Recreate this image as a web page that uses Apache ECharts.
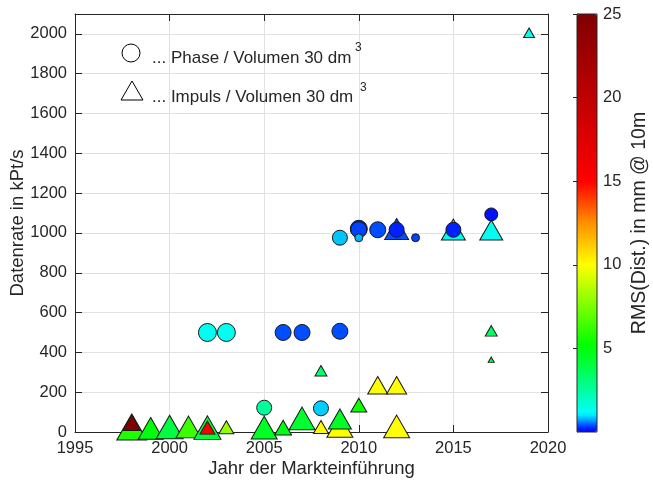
<!DOCTYPE html>
<html><head><meta charset="utf-8">
<script src="https://cdn.jsdelivr.net/npm/echarts@6/dist/echarts.min.js"></script>
<style>html,body{margin:0;padding:0;background:#fff}#c{width:653px;height:482px}</style>
</head><body><div id="c"></div>
<script>
// ---- Data ----
// Phase / Volumen 30 dm^3 (circles)
const phaseYear = [2002, 2003, 2006, 2007, 2009, 2009, 2010, 2010, 2010, 2011, 2012, 2013, 2015, 2017, 2005, 2008];
const phaseRate = [500, 500, 500, 500, 506, 976, 1021, 1016, 976, 1016, 1016, 976, 1016, 1093, 122, 119];
const phaseRms  = [1.3, 1.3, 0.4, 0.4, 0.4, 0.85, 0.2, 0.35, 0.8, 0.4, 0.2, 0.35, 0.2, 0.1, 2.6, 0.9];
const phaseSize = [18, 18, 16, 16, 16, 15, 17, 16, 8, 16, 15, 8, 15, 13, 15, 15];

// Impuls / Volumen 30 dm^3 (triangles)
const impYear = [1998, 1998, 1999, 2000, 2001, 2002, 2002, 2003, 2005, 2006, 2007, 2009, 2009, 2008, 2008, 2010, 2011, 2012, 2012, 2012, 2015, 2017, 2017, 2017, 2019];
const impRate = [25, 47, 18, 25, 25, 22, 22, 24, 22, 22, 68, 30, 65, 25, 308, 135, 235, 235, 28, 1020, 1017, 1015, 508, 363, 2006];
const impRms  = [5.8, 25, 5, 4, 6.3, 4, 15.5, 8, 4.5, 4.8, 4.3, 10, 4.5, 10, 3.2, 5.5, 10, 10, 10, 0.4, 1.4, 1.3, 3.5, 4.5, 1.3];
const impSize = [30, 18, 25, 27, 25, 27, 15, 15, 26, 17, 26, 26, 23, 15, 12, 16, 20, 20, 26, 24, 24, 23, 12, 6, 11];

// Axis ticks
const xTicks = [1995, 2000, 2005, 2010, 2015, 2020];
const yTicks = [0, 200, 400, 600, 800, 1000, 1200, 1400, 1600, 1800, 2000];
const cTicks = [5, 10, 15, 20, 25];

// ---- Colormap (style) ----
const anchors = [[0,'#0000ff'],[0.3,'#0030ff'],[0.7,'#00a0ff'],[1.1,'#00ffff'],[2,'#00ffc0'],[4,'#00ff40'],[5.2,'#00ff00'],[10,'#ffff00'],[12.5,'#ff9000'],[15,'#ff0000'],[25,'#800000']];
function hex(c){return [parseInt(c.substr(1,2),16),parseInt(c.substr(3,2),16),parseInt(c.substr(5,2),16)];}
function cmap(v){
  for(let i=0;i<anchors.length-1;i++){
    const [a,ca]=anchors[i],[b,cb]=anchors[i+1];
    if(v>=a&&v<=b){const t=(v-a)/(b-a);const A=hex(ca),B=hex(cb);
      return 'rgb('+A.map((x,k)=>Math.round(x+(B[k]-x)*t)).join(',')+')';}
  }
  return anchors[anchors.length-1][1];
}
const stops=[];for(let i=0;i<=100;i++)stops.push(cmap(i*0.25));

const phaseData = phaseYear.map((y,i)=>[y, phaseRate[i], phaseRms[i], phaseSize[i]]);
const impData = impYear.map((y,i)=>[y, impRate[i], impRms[i], impSize[i]]);

const FONT = 'Liberation Sans, Arial, sans-serif';
const INK = '#262626';
const GRID = '#e2e2e2';

const chart = echarts.init(document.getElementById('c'), null, {renderer:'canvas'});
chart.setOption({
  animation:false,
  backgroundColor:'#fff',
  textStyle:{fontFamily:FONT},
  grid:[
    {left:75, top:14, width:473, height:418, show:false, containLabel:false, outerBoundsMode:'none'},
    {left:577, top:14, width:20, height:418, show:true, z:10, backgroundColor:'transparent', borderColor:INK, borderWidth:1, containLabel:false, outerBoundsMode:'none'}
  ],
  xAxis:[
    {gridIndex:0, type:'value', min:xTicks[0], max:xTicks[xTicks.length-1], interval:5, position:'bottom',
     axisLine:{show:true,onZero:false,lineStyle:{color:INK,width:1}},
     axisTick:{show:true,inside:true,length:7,lineStyle:{color:INK}},
     axisLabel:{fontSize:16.5,color:INK,margin:8,fontFamily:FONT,formatter:v=>String(v)},
     splitLine:{show:true,lineStyle:{color:GRID,width:1}},
     name:'Jahr der Markteinführung', nameLocation:'middle', nameGap:27, nameMoveOverlap:false,
     nameTextStyle:{fontSize:18.5,color:INK,fontFamily:FONT}},
    {gridIndex:0, type:'value', min:xTicks[0], max:xTicks[xTicks.length-1], interval:5, position:'top',
     axisLine:{show:true,onZero:false,lineStyle:{color:INK,width:1}},
     axisTick:{show:true,inside:true,length:7,lineStyle:{color:INK}},
     axisLabel:{show:false}, splitLine:{show:false}},
    {gridIndex:1, type:'value', min:0, max:1, show:false}
  ],
  yAxis:[
    {gridIndex:0, type:'value', min:0, max:2100, interval:200, position:'left',
     axisLine:{show:true,onZero:false,lineStyle:{color:INK,width:1}},
     axisTick:{show:true,inside:true,length:7,lineStyle:{color:INK}},
     axisLabel:{fontSize:16.5,color:INK,margin:8,fontFamily:FONT,showMaxLabel:false,
       formatter:v=>yTicks.indexOf(v)>=0?String(v):''},
     splitLine:{show:true,lineStyle:{color:GRID,width:1}},
     name:'Datenrate in kPt/s', nameLocation:'middle', nameGap:48, nameRotate:90, nameMoveOverlap:false,
     nameTextStyle:{fontSize:18.5,color:INK,fontFamily:FONT}},
    {gridIndex:0, type:'value', min:0, max:2100, interval:200, position:'right',
     axisLine:{show:true,onZero:false,lineStyle:{color:INK,width:1}},
     axisTick:{show:true,inside:true,length:7,lineStyle:{color:INK}},
     axisLabel:{show:false}, splitLine:{show:false}},
    {gridIndex:1, type:'value', min:0, max:25, interval:5, position:'right',
     axisLine:{show:true,lineStyle:{color:INK,width:1}},
     axisTick:{show:true,inside:true,length:4,lineStyle:{color:INK}},
     axisLabel:{fontSize:16.5,color:INK,margin:6,fontFamily:FONT,showMinLabel:false,
       formatter:v=>cTicks.indexOf(v)>=0?String(v):''},
     splitLine:{show:false},
     name:'RMS(Dist.) in mm @ 10m', nameLocation:'middle', nameGap:33, nameRotate:90,
     nameTextStyle:{fontSize:19.5,color:INK,fontFamily:FONT}}
  ],
  visualMap:{
    type:'continuous', min:0, max:25, dimension:2, seriesIndex:[0,1],
    left:577, top:14, itemWidth:20, itemHeight:418, padding:0,
    calculable:false, realtime:false, hoverLink:false, text:null, showLabel:false,
    inRange:{color:stops}
  },
  series:[
    {type:'scatter', name:'Impuls', xAxisIndex:0, yAxisIndex:0, symbol:'triangle',
     data:impData, symbolSize:d=>[d[3], d[3]*0.87], z:2,
     itemStyle:{borderColor:'#1a1a1a',borderWidth:1,opacity:1},
     emphasis:{disabled:true}},
    {type:'scatter', name:'Phase', xAxisIndex:0, yAxisIndex:0, symbol:'circle',
     data:phaseData, symbolSize:d=>d[3], z:3,
     itemStyle:{borderColor:'#1a1a1a',borderWidth:1,opacity:1},
     emphasis:{disabled:true}}
  ],
  graphic:[
    {type:'circle', shape:{cx:131, cy:53, r:9}, style:{fill:'none', stroke:'#000', lineWidth:1}, z:20},
    {type:'polygon', shape:{points:[[132,81],[143,100],[121,100]]}, style:{fill:'none', stroke:'#000', lineWidth:1}, z:20},
    {type:'text', x:152, y:58, style:{text:'... Phase / Volumen 30 dm', font:'17px '+FONT, fill:INK, verticalAlign:'middle'}, z:20},
    {type:'text', x:355, y:48, style:{text:'3', font:'12px '+FONT, fill:INK, verticalAlign:'middle'}, z:20},
    {type:'text', x:152, y:97, style:{text:'... Impuls / Volumen 30 dm', font:'17px '+FONT, fill:INK, verticalAlign:'middle'}, z:20},
    {type:'text', x:360, y:88, style:{text:'3', font:'12px '+FONT, fill:INK, verticalAlign:'middle'}, z:20}
  ]
});
</script></body></html>
